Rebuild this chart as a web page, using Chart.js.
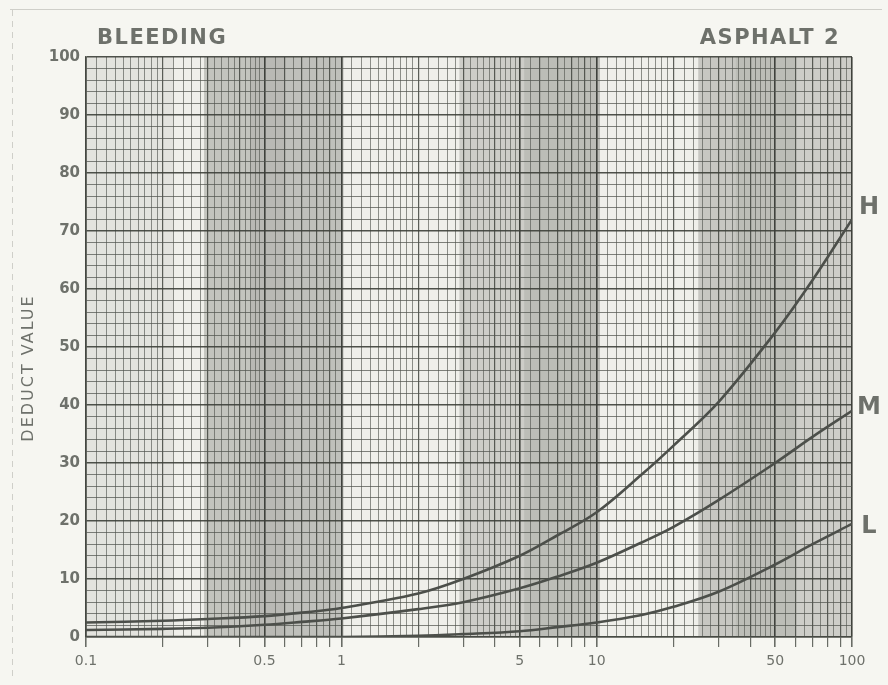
<!DOCTYPE html>
<html><head><meta charset="utf-8">
<script src="https://cdn.jsdelivr.net/npm/chart.js@4/dist/chart.umd.min.js"></script>
<style>html,body{margin:0;padding:0;background:#f6f6f1;}#wrap{width:888px;height:685px;}</style>
</head><body><div id="wrap"><canvas id="c" width="888" height="685"></canvas></div>
<script>
// ---- data ----
const areaPct      = [0.1, 0.2, 0.3, 0.5, 0.7, 1,   2,   3,   5,   7,    10,   15,   20,  30,   50,   70,   100];
const highDeduct   = [2.5, 2.8, 3.1, 3.6, 4.2, 5.0, 7.5, 10,  14,  17.5, 21.5, 28,   33,  40.5, 52.5, 61.5, 72];
const mediumDeduct = [1.2, 1.4, 1.6, 2.1, 2.6, 3.2, 4.8, 6,   8.4, 10.4, 12.8, 16.3, 19,  23.6, 30,   34.5, 39];
const lowDeduct    = [0,   0,   0,   0,   0,   0,   0.2, 0.5, 1,   1.7,  2.5,  3.8,  5.2, 7.8,  12.5, 16,   19.5];
const seriesNames  = ['H', 'M', 'L'];
const seriesLabelAt = [74, 39.5, 19];
const xTickValues  = [0.1, 0.5, 1, 5, 10, 50, 100];
const xTickText    = ['0.1', '0.5', '1', '5', '10', '50', '100'];
const yTickValues  = [0, 10, 20, 30, 40, 50, 60, 70, 80, 90, 100];
const titleLeft    = 'BLEEDING';
const titleRight   = 'ASPHALT 2';
const yTitle       = 'DEDUCT VALUE';
// scanned-paper shading bands (x ranges)
const shadeFrom  = [0.1, 0.29, 0.44, 0.6, 2.9, 5.2, 25, 35, 60];
const shadeTo    = [0.22, 0.44, 0.6, 1.02, 5.2, 10.3, 35, 60, 100];
const shadeAlpha = [0.07, 0.26, 0.32, 0.28, 0.2, 0.3, 0.24, 0.3, 0.2];

// log-paper grid positions
const gridTicks = [];
[0.1, 1, 10].forEach(d => {
  for (let k = 10; k < 20; k += 1) gridTicks.push(d * k / 10);
  for (let k = 20; k < 50; k += 2) gridTicks.push(d * k / 10);
  for (let k = 50; k < 100; k += 5) gridTicks.push(d * k / 10);
});
gridTicks.push(100);

const near = (a, b) => Math.abs(a - b) < 1e-6 * Math.max(1, b);
const isInt = v => { const d = Math.pow(10, Math.floor(Math.log10(v) + 1e-9)); const m = v / d; return Math.abs(m - Math.round(m)) < 1e-6; };
const isLabeled = v => xTickValues.some(t => near(v, t));

const textColor = '#6e716b';
const lineColor = '#4c4f4a';

const paperPlugin = {
  id: 'paper',
  beforeDraw(chart) {
    const ctx = chart.ctx, a = chart.chartArea, xs = chart.scales.x;
    ctx.save();
    ctx.fillStyle = '#f6f6f1';
    ctx.fillRect(0, 0, chart.width, chart.height);
    ctx.strokeStyle = '#cfcfc9';
    ctx.lineWidth = 1;
    ctx.beginPath(); ctx.moveTo(10, 9.5); ctx.lineTo(882, 9.5); ctx.stroke();
    ctx.setLineDash([6, 5]);
    ctx.beginPath(); ctx.moveTo(12.5, 10); ctx.lineTo(12.5, 676); ctx.stroke();
    ctx.setLineDash([]);
    ctx.fillStyle = '#efefea';
    ctx.fillRect(a.left, a.top, a.right - a.left, a.bottom - a.top);
    for (let i = 0; i < shadeFrom.length; i++) {
      const x0 = xs.getPixelForValue(shadeFrom[i]), x1 = xs.getPixelForValue(shadeTo[i]);
      ctx.fillStyle = 'rgba(70,72,66,' + shadeAlpha[i] + ')';
      ctx.fillRect(x0, a.top, x1 - x0, a.bottom - a.top);
    }
    ctx.restore();
  },
  afterDraw(chart) {
    const ctx = chart.ctx, ys = chart.scales.y;
    ctx.save();
    ctx.fillStyle = textColor;
    ctx.font = 'bold 21px "DejaVu Sans"';
    ctx.letterSpacing = '1.5px';
    ctx.textBaseline = 'alphabetic';
    ctx.textAlign = 'left';
    ctx.fillText(titleLeft, 97, 44);
    ctx.textAlign = 'right';
    ctx.fillText(titleRight, 840, 44);
    ctx.font = 'bold 24px "DejaVu Sans"';
    ctx.letterSpacing = '0px';
    ctx.textAlign = 'center';
    ctx.textBaseline = 'middle';
    seriesNames.forEach((n, i) => ctx.fillText(n, 869, ys.getPixelForValue(seriesLabelAt[i])));
    ctx.translate(29, 368);
    ctx.rotate(-Math.PI / 2);
    ctx.font = '16px "DejaVu Sans"';
    ctx.letterSpacing = '2px';
    ctx.fillText(yTitle, 0, 0);
    ctx.restore();
  }
};

const mk = (arr) => areaPct.map((x, i) => ({ x: x, y: arr[i] }));

new Chart(document.getElementById('c'), {
  type: 'line',
  data: {
    datasets: [highDeduct, mediumDeduct, lowDeduct].map((arr, i) => ({
      label: seriesNames[i],
      data: mk(arr),
      borderColor: lineColor,
      borderWidth: 2.6,
      pointRadius: 0,
      tension: 0.35,
      fill: false
    }))
  },
  options: {
    responsive: false,
    devicePixelRatio: 1,
    animation: false,
    layout: { padding: { left: 0, right: 36, top: 57, bottom: 0 } },
    plugins: { legend: { display: false }, tooltip: { enabled: false } },
    scales: {
      x: {
        type: 'logarithmic',
        min: 0.1, max: 100,
        afterBuildTicks: s => { s.ticks = gridTicks.map(v => ({ value: v })); },
        afterFit: s => { s.height = 48; },
        ticks: {
          autoSkip: false, maxRotation: 0, minRotation: 0, padding: 6,
          color: textColor,
          font: { family: '"DejaVu Sans"', size: 14 },
          callback: v => { const i = xTickValues.findIndex(t => near(v, t)); return i >= 0 ? xTickText[i] : ''; }
        },
        grid: {
          color: c => { const v = c.tick ? c.tick.value : 0; return isLabeled(v) ? 'rgba(55,58,53,0.95)' : (isInt(v) ? 'rgba(65,68,62,0.85)' : 'rgba(85,88,82,0.65)'); },
          lineWidth: c => { const v = c.tick ? c.tick.value : 0; return isLabeled(v) ? 1.6 : (isInt(v) ? 1.2 : 1); },
          tickLength: 10,
          tickColor: c => { const v = c.tick ? c.tick.value : 0; return isInt(v) ? 'rgba(90,93,87,0.9)' : 'rgba(0,0,0,0)'; }
        },
        border: { color: 'rgba(70,73,67,0.9)', width: 1.5 }
      },
      y: {
        min: 0, max: 100,
        afterFit: s => { s.width = 86; },
        ticks: {
          stepSize: 2, autoSkip: false, padding: 6,
          color: textColor,
          font: { family: '"DejaVu Sans"', size: 15, weight: 'bold' },
          callback: v => yTickValues.includes(v) ? String(v) : ''
        },
        grid: {
          drawTicks: false,
          color: c => { const v = c.tick ? c.tick.value : 0; return v % 10 === 0 ? 'rgba(60,63,57,0.9)' : 'rgba(80,83,77,0.72)'; },
          lineWidth: c => { const v = c.tick ? c.tick.value : 0; return v % 10 === 0 ? 1.5 : 1.1; }
        },
        border: { color: 'rgba(70,73,67,0.9)', width: 1.5 }
      }
    }
  },
  plugins: [paperPlugin]
});
</script></body></html>
